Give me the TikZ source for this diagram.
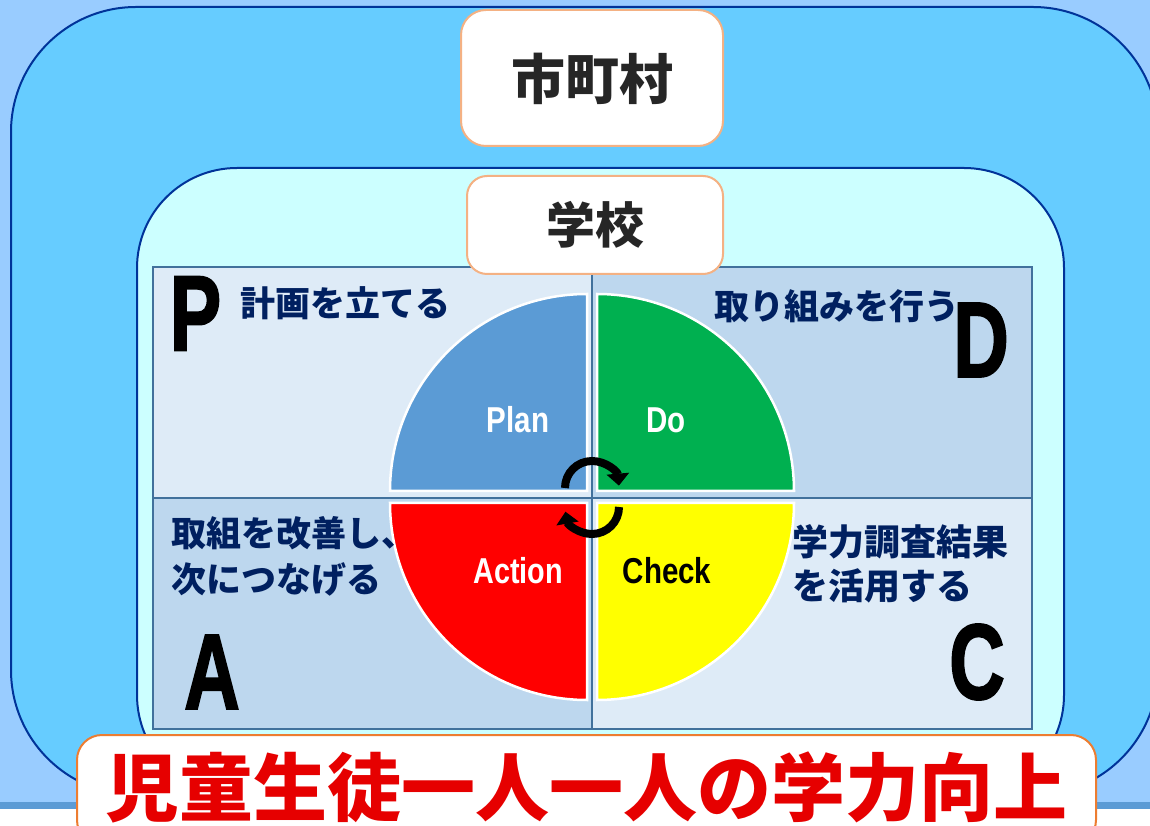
\documentclass[tikz,border=0pt]{standalone}
\usepackage{fontspec}
\usepackage{graphicx}
\usetikzlibrary{arrows.meta}
\newfontfamily\jp{Noto Sans CJK JP}
\newfontfamily\lat{Liberation Sans}
\newfontfamily\latheavy{Liberation Sans Bold}[FakeBold=2]
\definecolor{bgblue}{HTML}{99CCFF}
\definecolor{bandblue}{HTML}{5B9BD5}
\definecolor{cityblue}{HTML}{66CCFF}
\definecolor{schoolcyan}{HTML}{CCFFFF}
\definecolor{darkline}{HTML}{003399}
\definecolor{panellight}{HTML}{DEEBF7}
\definecolor{paneldark}{HTML}{BDD7EE}
\definecolor{panelline}{HTML}{41719C}
\definecolor{softorange}{HTML}{F4B183}
\definecolor{strongorange}{HTML}{ED7D31}
\definecolor{navytext}{HTML}{002060}
\definecolor{plancol}{HTML}{5B9BD5}
\definecolor{docol}{HTML}{00B050}
\definecolor{actcol}{HTML}{FF0000}
\definecolor{checkcol}{HTML}{FFFF00}
\definecolor{goalred}{HTML}{E60000}
\definecolor{titlegray}{HTML}{262626}
\tikzset{
  levelbox/.style={draw=darkline, line width=2pt},
  panelbox/.style={draw=panelline, line width=2pt},
  titlebox/.style={draw=softorange, fill=white, line width=2pt},
  quarter/.style={draw=white, line width=2.5pt},
  jplabel/.style={text=navytext, inner sep=0pt, align=left, font=\jp\bfseries\fontsize{35}{46}\selectfont},
  bigletter/.style={inner sep=0pt, text=black, font=\latheavy\fontsize{107}{107}\selectfont},
  pdcaword/.style={inner sep=0pt, anchor=base, font=\lat\bfseries\fontsize{36}{36}\selectfont},
  cyclearrow/.style={line width=8pt, -{Triangle[width=22pt,length=12pt]}},
}
\begin{document}
\begin{tikzpicture}[x=1pt,y=1pt]
\useasboundingbox (0,0) rectangle (1150,825);
% slide background
\fill[white] (0,0) rectangle (1150,825);
\fill[bandblue] (0,16) rectangle (1150,23);
\fill[bgblue] (0,23) rectangle (1150,825);
% municipality level
\draw[levelbox, fill=cityblue, rounded corners=125pt] (11,30) rectangle (1158,818);
% school level
\draw[levelbox, fill=schoolcyan, rounded corners=100pt] (137,30) rectangle (1064,657);
% panels
\draw[panelbox, fill=panellight] (153,327) rectangle (592,558);
\draw[panelbox, fill=paneldark] (592,327) rectangle (1032,558);
\draw[panelbox, fill=paneldark] (153,96) rectangle (592,327);
\draw[panelbox, fill=panellight] (592,96) rectangle (1032,327);
% quarters
\draw[quarter, fill=plancol] (587,334) -- ++(-197,0) arc[start angle=180, end angle=90, radius=197] -- cycle;
\draw[quarter, fill=docol] (597,334) -- ++(0,197) arc[start angle=90, end angle=0, radius=197] -- cycle;
\draw[quarter, fill=actcol] (587,322) -- ++(0,-197) arc[start angle=270, end angle=180, radius=197] -- cycle;
\draw[quarter, fill=checkcol] (597,322) -- ++(197,0) arc[start angle=0, end angle=-90, radius=197] -- cycle;
% cycle arrows
\draw[cyclearrow] (565,337) arc[start angle=180, end angle=5, radius=27];
\draw[cyclearrow] (619,318) arc[start angle=0, end angle=-170, radius=27];
% title boxes
\draw[titlebox, rounded corners=25pt] (461,679) rectangle (723,815);
\node[text=titlegray, font=\jp\bfseries\fontsize{54}{54}\selectfont, inner sep=0pt] (city) at (592,746) {市町村};
\draw[titlebox, rounded corners=20pt] (467,551) rectangle (723,649);
\node[text=titlegray, font=\jp\bfseries\fontsize{49}{49}\selectfont, inner sep=0pt] (school) at (595,600) {学校};
% letters
\node[bigletter] (letP) at (195.5,511.5) {\scalebox{0.72}[1]{P}};
\node[bigletter] (letD) at (981,485) {\scalebox{0.72}[1]{D}};
\node[bigletter] (letA) at (212,153) {\scalebox{0.72}[1]{A}};
\node[bigletter] (letC) at (977,163) {\scalebox{0.72}[1]{C}};
% labels
\node[jplabel, anchor=west] (lblP) at (240,522) {計画を立てる};
\node[jplabel, anchor=west] (lblD) at (714,519) {取り組みを行う};
\node[jplabel, anchor=west] (lblA) at (171,269) {取組を改善し、\\次につなげる};
\node[jplabel, anchor=west, font=\jp\bfseries\fontsize{36}{44}\selectfont] (lblC) at (792,261) {学力調査結果\\を活用する};
% PDCA words
\node[pdcaword, text=white] (plan) at (518,392) {\scalebox{0.82}[1]{Plan}};
\node[pdcaword, text=white] (do) at (666,392) {\scalebox{0.82}[1]{Do}};
\node[pdcaword, text=white] (action) at (518,242) {\scalebox{0.8}[1]{Action}};
\node[pdcaword, text=black] (check) at (667,242) {\scalebox{0.82}[1]{Check}};
% goal box
\draw[titlebox, draw=strongorange, rounded corners=25pt] (77,-20) rectangle (1096,90);
\node[text=goalred, font=\jp\bfseries\fontsize{74}{74}\selectfont, inner sep=0pt] (goal) at (586,38) {児童生徒一人一人の学力向上};
\end{tikzpicture}
\end{document}
